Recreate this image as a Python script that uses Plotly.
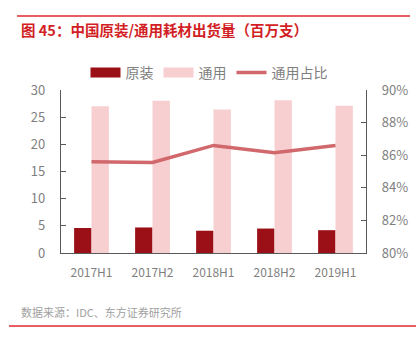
import plotly.graph_objects as go

categories = ["2017H1", "2017H2", "2018H1", "2018H2", "2019H1"]
original = [4.6, 4.7, 4.1, 4.5, 4.2]
generic = [27.0, 28.0, 26.4, 28.1, 27.1]
generic_share = [0.856, 0.8555, 0.866, 0.8615, 0.866]

W, H = 418, 339
L, R, T, B = 61, 366, 90, 253

def px(x):
    return (x - L) / (R - L)

def py(y):
    return (B - y) / (B - T)

cjk = "Noto Sans CJK SC"
gray = "#7f7f7f"
dark = "#9b1016"
light = "#f7cfd1"
linec = "#d0686c"

fig = go.Figure()
fig.add_trace(go.Bar(x=categories, y=original, name="原装", marker_color=dark,
                     marker_line_width=0, showlegend=False))
fig.add_trace(go.Bar(x=categories, y=generic, name="通用", marker_color=light,
                     marker_line_width=0, showlegend=False))
fig.add_trace(go.Scatter(x=categories, y=generic_share, name="通用占比", yaxis="y2",
                         mode="lines", line=dict(color=linec, width=3.5), showlegend=False))
# legend entries (wide swatches like the reference)
fig.add_trace(go.Scatter(x=[None], y=[None], name="原装", mode="lines",
                         line=dict(color=dark, width=10)))
fig.add_trace(go.Scatter(x=[None], y=[None], name="通用", mode="lines",
                         line=dict(color=light, width=10)))
fig.add_trace(go.Scatter(x=[None], y=[None], name="通用占比", mode="lines",
                         line=dict(color=linec, width=3.5)))

fig.update_layout(
    width=W, height=H,
    margin=dict(l=L, r=W - R, t=T, b=H - B, autoexpand=False),
    paper_bgcolor="white", plot_bgcolor="white",
    barmode="group", bargap=0.43, bargroupgap=0,
    font=dict(family=cjk, color=gray, size=13),
    showlegend=True,
    legend=dict(orientation="h", x=0.5, xref="container", xanchor="center",
                y=1 - 73 / H, yref="container", yanchor="middle",
                bgcolor="rgba(0,0,0,0)",
                font=dict(family=cjk, size=14, color=gray),
                itemwidth=30, traceorder="normal"),
    xaxis=dict(showline=True, linecolor="#595959", linewidth=1.3, ticks="",
               tickfont=dict(family=cjk, size=12, color=gray), showgrid=False,
               ticklabelstandoff=8),
    yaxis=dict(range=[0, 30], dtick=5, showline=True, linecolor="#595959", linewidth=1.3,
               ticks="inside", ticklen=5, tickcolor="#595959", showgrid=False,
               zeroline=False, tickfont=dict(family=cjk, size=13, color=gray),
               ticklabelstandoff=12),
    yaxis2=dict(range=[0.8, 0.9], dtick=0.02, tickformat=".0%", overlaying="y", side="right",
                showline=True, linecolor="#595959", linewidth=1.3, ticks="inside",
                ticklen=5, tickcolor="#595959", showgrid=False, zeroline=False,
                tickfont=dict(family=cjk, size=13, color=gray), ticklabelstandoff=12),
    shapes=[
        dict(type="line", xref="paper", yref="paper", x0=px(17), x1=px(410),
             y0=py(16), y1=py(16), line=dict(color="#e0292e", width=1.3), layer="above"),
        dict(type="line", xref="paper", yref="paper", x0=px(9), x1=px(416),
             y0=py(326), y1=py(326), line=dict(color="#e0292e", width=1.3), layer="above"),
    ],
    annotations=[
        dict(text="<b>图 45：中国原装/通用耗材出货量（百万支）</b>", xref="paper", yref="paper",
             x=px(19), y=py(30), xanchor="left", yanchor="middle", showarrow=False,
             font=dict(family=cjk, size=14.5, color="#d21f25")),
        dict(text="数据来源：IDC、东方证券研究所", xref="paper", yref="paper",
             x=px(19), y=py(312), xanchor="left", yanchor="middle", showarrow=False,
             font=dict(family=cjk, size=11, color="#a0a0a0")),
    ],
)

fig.write_html("out.html")
